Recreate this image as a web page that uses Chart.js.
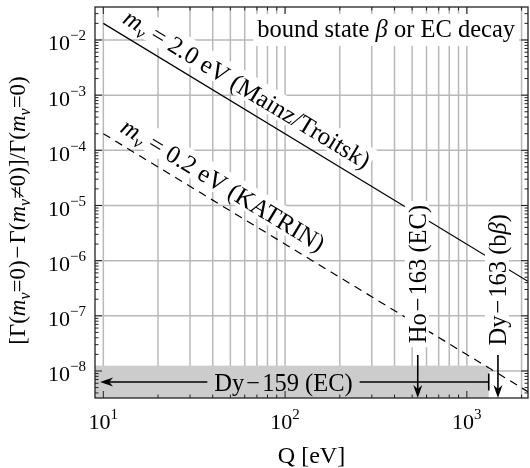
<!DOCTYPE html>
<html>
<head>
  <title>Neutrino mass effect vs Q</title>
  <script src="https://cdn.jsdelivr.net/npm/chart.js"></script>
  <style>
    body { margin: 0; background: #fff; }
    #wrap { width: 530px; height: 468px; }
  </style>
</head>
<body>
  <div id="wrap"><canvas id="chart" width="530" height="468"></canvas></div>
  <script>
    // values
    const qLine = [10, 2200];
    const mainzVals = [2.0e-2, 4.1e-7];
    const katrinVals = [2.0e-4, 4.1e-9];
    const xRange = [9.0, 2170];
    const yRange = [3.24e-9, 3.96e-2];
    const xTicks = [10, 100, 1000];
    const xTickExp = ['1', '2', '3'];
    const yTicks = [1e-8, 1e-7, 1e-6, 1e-5, 1e-4, 1e-3, 1e-2];
    const yTickExp = ['−8', '−7', '−6', '−5', '−4', '−3', '−2'];
    const gridQ = [10, 20, 30, 40, 50, 60, 70, 80, 90, 100, 200, 300, 400, 500, 600, 700, 800, 900, 1000, 2000];
    const bandQmax = 1320;
    const bandTop = 1.25e-8;
    const dy159 = { from: 9.6, to: 1320, y: 6.3e-9, textQ: 98 };
    const markerQ = [537, 1483];
    const markerTextY = [5.7e-7, 4.5e-7];
    const markerArrowTop = 1.95e-8;
    const mainzLabelAt = [62.1, 1.33e-3];
    const katrinLabelAt = [45.8, 2.42e-5];

    const FONT = '"Liberation Serif", "Times New Roman", serif';
    const HAIR = '\u200A';
    function seg(t, o) { return Object.assign({ t: t, it: false, size: 22, dy: 0 }, o || {}); }
    const R = (t, size) => seg(t, { size: size || 22 });
    const I = (t, size) => seg(t, { it: true, size: size || 22 });
    const SUB = (t, size) => seg(t, { it: true, size: size || 15, dy: 5 });
    const SUP = (t) => seg(t, { size: 15, dy: -10 });

    function setFont(ctx, s) { ctx.font = (s.it ? 'italic ' : '') + s.size + 'px ' + FONT; }
    function richWidth(ctx, segs) {
      let w = 0;
      segs.forEach(s => { setFont(ctx, s); w += ctx.measureText(s.t).width; });
      return w;
    }
    function drawRich(ctx, segs, x, y, align) {
      const w = richWidth(ctx, segs);
      let cx = align === 'center' ? x - w / 2 : align === 'right' ? x - w : x;
      ctx.textAlign = 'left';
      ctx.textBaseline = 'alphabetic';
      segs.forEach(s => {
        setFont(ctx, s);
        ctx.fillText(s.t, cx, y + s.dy);
        cx += ctx.measureText(s.t).width;
      });
      return w;
    }
    // text centred on (x,y), rotated, on a white box
    function boxedText(ctx, segs, x, y, angle, padX, h) {
      ctx.save();
      ctx.translate(x, y);
      ctx.rotate(angle);
      const w = richWidth(ctx, segs);
      ctx.fillStyle = '#fff';
      ctx.fillRect(-w / 2 - padX, -h / 2 - 1, w + 2 * padX, h);
      ctx.fillStyle = '#000';
      drawRich(ctx, segs, 0, h * 0.34, 'center');
      ctx.restore();
      return w;
    }
    function arrowHead(ctx, tx, ty, dx, dy) {
      const len = 13, half = 4.5;
      const bx = tx - dx * len, by = ty - dy * len;
      ctx.beginPath();
      ctx.moveTo(tx, ty);
      ctx.lineTo(bx - dy * half, by + dx * half);
      ctx.lineTo(tx - dx * len * 0.7, ty - dy * len * 0.7);
      ctx.lineTo(bx + dy * half, by - dx * half);
      ctx.closePath();
      ctx.fill();
    }

    const mLabel = (txt) => [I('m', 25), SUB('ν', 17), R(' = ' + txt, 25)];
    const minus = HAIR + '−' + HAIR;

    const decor = {
      id: 'decor',
      beforeDatasetsDraw(chart) {
        const { ctx, chartArea: a, scales: { x, y } } = chart;
        ctx.save();
        ctx.strokeStyle = '#b9b9b9';
        ctx.lineWidth = 1.5;
        gridQ.forEach(q => {
          const px = x.getPixelForValue(q);
          ctx.beginPath(); ctx.moveTo(px, a.top); ctx.lineTo(px, a.bottom); ctx.stroke();
        });
        yTicks.forEach(v => {
          const py = y.getPixelForValue(v);
          ctx.beginPath(); ctx.moveTo(a.left, py); ctx.lineTo(a.right, py); ctx.stroke();
        });
        // excluded region
        ctx.fillStyle = '#cccccc';
        const bt = y.getPixelForValue(bandTop);
        ctx.fillRect(a.left, bt, x.getPixelForValue(bandQmax) - a.left, a.bottom - bt);

        // labels along the lines
        const p1 = [x.getPixelForValue(qLine[0]), y.getPixelForValue(mainzVals[0])];
        const p2 = [x.getPixelForValue(qLine[1]), y.getPixelForValue(mainzVals[1])];
        const ang = Math.atan2(p2[1] - p1[1], p2[0] - p1[0]);
        boxedText(ctx, mLabel('2.0 eV (Mainz/Troitsk)'), x.getPixelForValue(mainzLabelAt[0]), y.getPixelForValue(mainzLabelAt[1]), ang, 2, 26);
        boxedText(ctx, mLabel('0.2 eV (KATRIN)'), x.getPixelForValue(katrinLabelAt[0]), y.getPixelForValue(katrinLabelAt[1]), ang, 2, 26);
        ctx.restore();
      },
      afterDatasetsDraw(chart) {
        const { ctx, chartArea: a, scales: { x, y } } = chart;
        ctx.save();
        ctx.fillStyle = '#000';
        ctx.strokeStyle = '#000';

        // top-right note
        const note = [R('bound state ', 24.5), I('β', 24.5), R(' or EC decay', 24.5)];
        const nw = richWidth(ctx, note);
        ctx.fillStyle = '#fff';
        ctx.fillRect(a.right - 13 - nw - 4, 14, nw + 8, 32);
        ctx.fillStyle = '#000';
        drawRich(ctx, note, a.right - 13, 37, 'right');

        // vertical markers
        const mLabels = [[R('Ho' + minus + '163 (EC)', 24.5)], [R('Dy' + minus + '163 (b', 24.5), I('β', 24.5), R(')', 24.5)]];
        markerQ.forEach((q, i) => {
          const px = x.getPixelForValue(q);
          boxedText(ctx, mLabels[i], px, y.getPixelForValue(markerTextY[i]), -Math.PI / 2, 4, 24);
          ctx.lineWidth = 1.6;
          ctx.beginPath();
          ctx.moveTo(px, y.getPixelForValue(markerArrowTop));
          ctx.lineTo(px, a.bottom - 6);
          ctx.stroke();
          arrowHead(ctx, px, a.bottom, 0, 1);
        });

        // Dy-159 range arrow
        const ay = y.getPixelForValue(dy159.y);
        const tx = x.getPixelForValue(dy159.textQ);
        const tseg = [R('Dy' + minus + '159 (EC)', 24.5)];
        const tw = richWidth(ctx, tseg);
        drawRich(ctx, tseg, tx, ay + 8.5, 'center');
        const lx = x.getPixelForValue(dy159.from), rx = x.getPixelForValue(dy159.to);
        ctx.lineWidth = 1.6;
        ctx.beginPath();
        ctx.moveTo(lx + 6, ay); ctx.lineTo(tx - tw / 2 - 7, ay);
        ctx.moveTo(tx + tw / 2 + 7, ay); ctx.lineTo(rx, ay);
        ctx.moveTo(rx, ay - 8.5); ctx.lineTo(rx, ay + 8.5);
        ctx.stroke();
        arrowHead(ctx, lx, ay, -1, 0);

        // frame
        ctx.lineWidth = 1.3;
        ctx.strokeStyle = '#222';
        ctx.strokeRect(a.left, a.top, a.right - a.left, a.bottom - a.top);

        // inner ticks
        ctx.lineWidth = 1;
        const tick = (x0, y0, x1, y1) => { ctx.beginPath(); ctx.moveTo(x0, y0); ctx.lineTo(x1, y1); ctx.stroke(); };
        for (let n = -9; n <= -2; n++) {
          for (let k = 1; k <= 9; k++) {
            const v = k * Math.pow(10, n);
            if (v < yRange[0] || v > yRange[1]) continue;
            const py = y.getPixelForValue(v);
            const L = k === 1 ? 7 : 3.5;
            tick(a.left, py, a.left + L, py);
            tick(a.right, py, a.right - L, py);
          }
        }
        for (let n = 1; n <= 3; n++) {
          for (let k = 1; k <= 9; k++) {
            const v = k * Math.pow(10, n);
            if (v < xRange[0] || v > xRange[1]) continue;
            const px = x.getPixelForValue(v);
            const L = k === 1 ? 7 : 3.5;
            tick(px, a.bottom, px, a.bottom - L);
            tick(px, a.top, px, a.top + L);
          }
        }

        // tick labels
        ctx.fillStyle = '#000';
        yTicks.forEach((v, i) => {
          drawRich(ctx, [R('10'), SUP(yTickExp[i])], a.left - 9, y.getPixelForValue(v) + 10.5, 'right');
        });
        xTicks.forEach((v, i) => {
          drawRich(ctx, [R('10'), SUP(xTickExp[i])], x.getPixelForValue(v), 429, 'center');
        });

        // axis titles
        drawRich(ctx, [R('Q [eV]', 24)], (a.left + a.right) / 2, 463, 'center');
        ctx.save();
        ctx.translate(25, (a.top + a.bottom) / 2 + 8);
        ctx.rotate(-Math.PI / 2);
        drawRich(ctx, [R('[Γ(', 23), I('m', 23), SUB('ν', 16), R('=0)' + minus + 'Γ(', 23), I('m', 23), SUB('ν', 16), R('≠0)]/Γ(', 23), I('m', 23), SUB('ν', 16), R('=0)', 23)], 0, 0, 'center');
        ctx.restore();

        ctx.restore();
      }
    };

    const toPts = (vals) => qLine.map((q, i) => ({ x: q, y: vals[i] }));

    new Chart(document.getElementById('chart').getContext('2d'), {
      type: 'scatter',
      data: {
        datasets: [{
          label: 'm = 2.0 eV (Mainz/Troitsk)',
          data: toPts(mainzVals),
          showLine: true,
          borderColor: '#000',
          borderWidth: 1.2,
          pointRadius: 0
        },
        {
          label: 'm = 0.2 eV (KATRIN)',
          data: toPts(katrinVals),
          showLine: true,
          borderColor: '#000',
          borderWidth: 1.2,
          borderDash: [8, 6],
          pointRadius: 0
        }]
      },
      options: {
        responsive: false,
        animation: false,
        events: [],
        layout: { padding: { left: 95, top: 7, right: 2, bottom: 70 } },
        plugins: { legend: { display: false }, tooltip: { enabled: false } },
        scales: {
          x: { type: 'logarithmic', min: xRange[0], max: xRange[1], display: false },
          y: { type: 'logarithmic', min: yRange[0], max: yRange[1], display: false }
        }
      },
      plugins: [decor]
    });
  </script>
</body>
</html>
